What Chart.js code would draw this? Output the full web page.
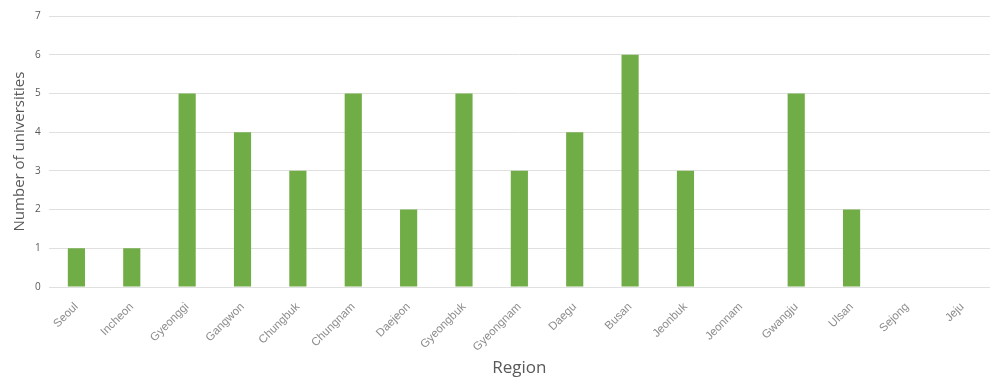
<!DOCTYPE html>
<html>
<head>
<meta charset="utf-8">
<script src="https://cdn.jsdelivr.net/npm/chart.js@4/dist/chart.umd.min.js"></script>
<style>
    html, body { margin: 0; padding: 0; background: #fff; }
    #wrap { width: 1006px; height: 388px; }
</style>
</head>
<body>
<div id="wrap"><canvas id="universities-chart"></canvas></div>
<script>
var regions = ['Seoul', 'Incheon', 'Gyeonggi', 'Gangwon', 'Chungbuk', 'Chungnam', 'Daejeon',
    'Gyeongbuk', 'Gyeongnam', 'Daegu', 'Busan', 'Jeonbuk', 'Jeonnam', 'Gwangju', 'Ulsan', 'Sejong', 'Jeju'];
var universities = [1, 1, 5, 4, 3, 5, 2, 5, 3, 4, 6, 3, 0, 5, 2, 0, 0];
var yTicks = [0, 1, 2, 3, 4, 5, 6, 7];

var ctx = document.getElementById('universities-chart');
var UniversitiesChart = new Chart(ctx, {
    type: 'bar',
    data: {
        labels: regions,
        datasets: [{
            label: 'Number of universities',
            data: universities,
            backgroundColor: '#70ad47',
            borderWidth: 0,
            barPercentage: 0.31,
            categoryPercentage: 1
        }]
    },
    options: {
        responsive: true,
        maintainAspectRatio: false,
        animation: false,
        layout: {
            padding: { left: 12, right: 16, top: 16, bottom: 11 }
        },
        plugins: {
            legend: { display: false },
            tooltip: { enabled: false }
        },
        scales: {
            x: {
                grid: { display: false },
                border: { display: false },
                afterFit: function (axis) {
                    // room for the slanted names and the title, like the original
                    axis.height = 90;
                },
                ticks: {
                    color: '#8c8c8c',
                    font: { family: 'Liberation Sans', size: 11.5 },
                    maxRotation: 45,
                    minRotation: 45,
                    padding: 5
                },
                title: {
                    display: true,
                    text: 'Region',
                    color: '#595959',
                    font: { family: 'Open Sans', size: 17, lineHeight: 1 },
                    padding: { top: 6, bottom: 0 }
                }
            },
            y: {
                min: 0,
                max: 7,
                afterBuildTicks: function (axis) {
                    axis.ticks = yTicks.map(function (v) { return { value: v }; });
                },
                grid: { color: '#e0e0e0', drawTicks: false, lineWidth: 1 },
                border: { display: false },
                ticks: {
                    color: '#595959',
                    font: { family: 'Open Sans', size: 10 },
                    padding: 8
                },
                title: {
                    display: true,
                    text: 'Number of universities',
                    color: '#595959',
                    font: { family: 'Open Sans', size: 15, lineHeight: 1 },
                    padding: { top: 0, bottom: 0 }
                }
            }
        }
    }
});
</script>
</body>
</html>
